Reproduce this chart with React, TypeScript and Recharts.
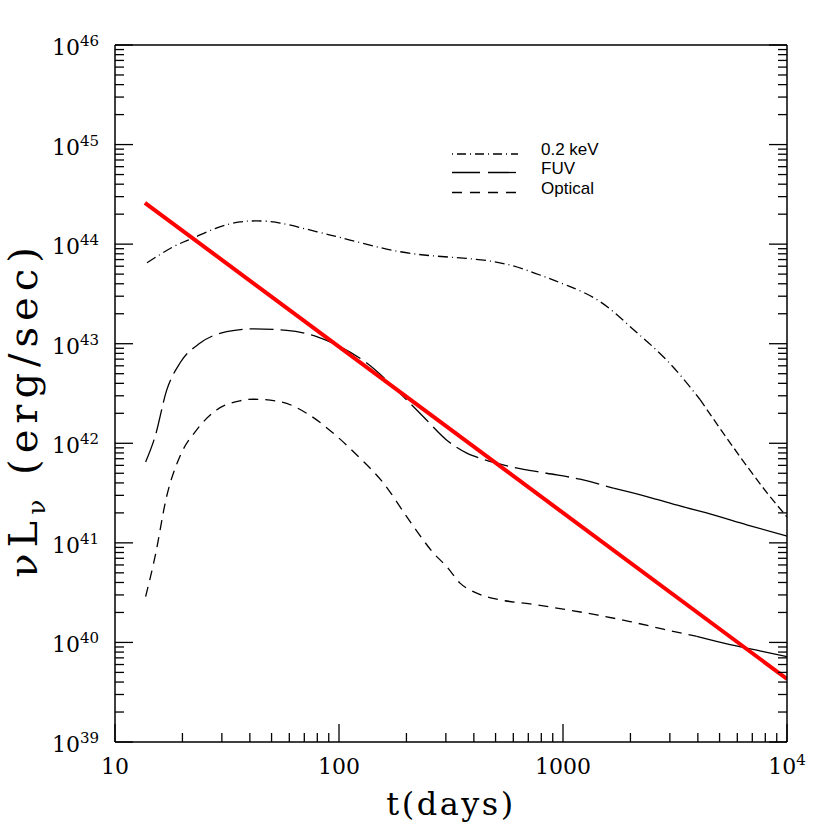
import React from "react";
import { LineChart, Line, XAxis, YAxis, Legend } from "recharts";

// ---- data ----
const keVT = [13.9, 18.2, 22.3, 28.5, 36.1, 43.1, 54.6, 79.8, 112, 187, 313, 523, 789, 1042, 1463, 2054, 2912, 4090, 5742, 8145, 10000];
const keVL = [6.5e43, 9.4e43, 1.15e44, 1.46e44, 1.67e44, 1.71e44, 1.63e44, 1.33e44, 1.1e44, 8.4e43, 7.4e43, 6.5e43, 4.9e43, 3.85e43, 2.65e43, 1.4e43, 6.8e42, 2.75e42, 9.2e41, 3.18e41, 1.82e41];

const fuvT = [13.7, 15.1, 17.0, 19.5, 23.9, 31.5, 41.4, 58.4, 79.5, 101, 133, 187, 238, 302, 372, 426, 600, 846, 1191, 1679, 2366, 3329, 4692, 6607, 10000];
const fuvL = [6.5e41, 1.17e42, 3.4e42, 6.4e42, 1.01e43, 1.32e43, 1.41e43, 1.36e43, 1.18e43, 9.35e42, 6.4e42, 3.18e42, 1.85e42, 1.08e42, 7.96e41, 7.08e41, 5.75e41, 5.0e41, 4.36e41, 3.54e41, 2.92e41, 2.35e41, 1.91e41, 1.52e41, 1.17e41];

const optT = [13.7, 15.1, 17.0, 19.5, 23.2, 28.4, 36.1, 41.4, 54.6, 71.8, 94.4, 124, 155, 210, 264, 302, 347, 412, 506, 713, 1003, 1413, 1990, 2804, 3953, 5572, 7840, 10000];
const optL = [2.89e40, 7.3e40, 2.92e41, 7.4e41, 1.37e42, 2.16e42, 2.67e42, 2.77e42, 2.62e42, 2.0e42, 1.26e42, 7.1e41, 4.2e41, 1.58e41, 7.9e40, 5.8e40, 3.94e40, 3.13e40, 2.72e40, 2.44e40, 2.16e40, 1.89e40, 1.62e40, 1.36e40, 1.15e40, 9.5e39, 8.1e39, 7.2e39];

const redT = [13.6, 10000];
const redL = [2.6e44, 4.3e39];

const xMajor = [10, 100, 1000, 10000];
const xMajorLabels = [
  { base: "10", sup: "" },
  { base: "100", sup: "" },
  { base: "1000", sup: "" },
  { base: "10", sup: "4" },
];
const yExponents = [39, 40, 41, 42, 43, 44, 45, 46];

const legendItems = [
  { label: "0.2 keV", dash: "1 4 9 4" },
  { label: "FUV", dash: "28 8" },
  { label: "Optical", dash: "10 8" },
];

// ---- helpers ----
const toData = (ts: number[], ls: number[]) => ts.map((t, i) => ({ t, L: ls[i] }));
const splitAt = (d: { t: number; L: number }[], cut: number) => [
  d.filter((p) => p.t <= cut),
  d.filter((p) => p.t >= cut),
];

const keVData = toData(keVT, keVL);
const fuvData = toData(fuvT, fuvL);
const optData = toData(optT, optL);
const redData = toData(redT, redL);

const [keVA, keVB] = splitAt(keVData, 4090);
const [fuvA, fuvB] = splitAt(fuvData, 1679);
const [optA, optB] = splitAt(optData, 3953);

const minorTicks = (lo: number, hi: number) => {
  const out: number[] = [];
  for (let e = lo; e < hi; e++) {
    for (let m = 1; m <= 9; m++) out.push(m * Math.pow(10, e));
  }
  out.push(Math.pow(10, hi));
  return out;
};
const xTicks = minorTicks(1, 4);
const yTicks = minorTicks(39, 46);

const isMajor = (v: number) => {
  const l = Math.log10(v);
  return Math.abs(l - Math.round(l)) < 1e-6;
};

const SERIF = "DejaVu Serif";
const MAJ = 18;
const MIN = 9;

const makeXTick = (side: "bottom" | "top") => (props: any) => {
  const { x, y, payload } = props;
  const v = payload.value;
  const major = isMajor(v);
  const len = major ? MAJ : MIN;
  const dir = side === "bottom" ? -1 : 1;
  let label = null;
  if (side === "bottom" && major) {
    const idx = xMajor.findIndex((m) => Math.abs(m - v) / m < 1e-6);
    const lab = xMajorLabels[idx];
    label = (
      <text x={x} y={y + 32} textAnchor="middle" fontFamily={SERIF} fontSize={22} fill="#000">
        {lab.base}
        {lab.sup ? (
          <tspan dy={-9} fontSize={15}>
            {lab.sup}
          </tspan>
        ) : null}
      </text>
    );
  }
  return (
    <g>
      <line x1={x} y1={y} x2={x} y2={y + dir * len} stroke="#000" strokeWidth={1.3} />
      {label}
    </g>
  );
};

const makeYTick = (side: "left" | "right") => (props: any) => {
  const { x, y, payload } = props;
  const v = payload.value;
  const major = isMajor(v);
  const len = major ? MAJ : MIN;
  const dir = side === "left" ? 1 : -1;
  let label = null;
  if (side === "left" && major) {
    const e = Math.round(Math.log10(v));
    const exp = yExponents.find((k) => k === e);
    label = (
      <text x={x - 16} y={y + 10} textAnchor="end" fontFamily={SERIF} fontSize={22} fill="#000">
        10
        <tspan dy={-9} fontSize={15}>
          {exp}
        </tspan>
      </text>
    );
  }
  return (
    <g>
      <line x1={x} y1={y} x2={x + dir * len} y2={y} stroke="#000" strokeWidth={1.3} />
      {label}
    </g>
  );
};

const LegendBox = () => (
  <svg width={200} height={70}>
    {legendItems.map((it, i) => {
      const ly = [19, 37.5, 57.5][i];
      return (
        <g key={it.label}>
          <line x1={12} x2={78} y1={ly} y2={ly} stroke="#000" strokeWidth={1.3} strokeDasharray={it.dash} />
          <text x={101} y={ly + 1} fontFamily="Liberation Sans" fontSize={17} fill="#000">
            {it.label}
          </text>
        </g>
      );
    })}
  </svg>
);

const axisLine = { stroke: "#000", strokeWidth: 1.5 };

export default function App() {
  return (
    <div style={{ position: "absolute", left: 0, top: 0, width: 830, height: 830, background: "#fff" }}>
      <LineChart width={830} height={830} margin={{ top: 15, right: 13, bottom: 58, left: 55 }}>
        <XAxis
          xAxisId="b"
          dataKey="t"
          type="number"
          scale="log"
          domain={[10, 10000]}
          allowDataOverflow
          ticks={xTicks}
          interval={0}
          orientation="bottom"
          height={30}
          tickSize={0}
          tickMargin={0}
          tickLine={false}
          axisLine={axisLine}
          tick={makeXTick("bottom")}
          label={{
            content: (p: any) => {
              const vb = p.viewBox;
              return (
                <text x={vb.x + vb.width / 2} y={vb.y + 73} textAnchor="middle" fontFamily={SERIF} fontSize={32} letterSpacing={2.5} fill="#000">
                  t(days)
                </text>
              );
            },
          }}
        />
        <XAxis
          xAxisId="t"
          type="number"
          scale="log"
          domain={[10, 10000]}
          allowDataOverflow
          ticks={xTicks}
          interval={0}
          orientation="top"
          height={30}
          tickSize={0}
          tickMargin={0}
          tickLine={false}
          axisLine={axisLine}
          tick={makeXTick("top")}
        />
        <YAxis
          yAxisId="l"
          type="number"
          scale="log"
          domain={[1e39, 1e46]}
          allowDataOverflow
          ticks={yTicks}
          interval={0}
          orientation="left"
          width={60}
          tickSize={0}
          tickMargin={0}
          tickLine={false}
          axisLine={axisLine}
          tick={makeYTick("left")}
          label={{
            content: (p: any) => {
              const vb = p.viewBox;
              const cx = 37;
              const cy = vb.y + vb.height / 2 + 16;
              return (
                <text
                  x={cx}
                  y={cy}
                  transform={`rotate(-90, ${cx}, ${cy})`}
                  textAnchor="middle"
                  fontFamily={SERIF}
                  fontSize={40}
                  letterSpacing={6}
                  fill="#000"
                >
                  νL
                  <tspan dy={8} fontSize={25}>ν</tspan>
                  <tspan dy={-8}> (erg/sec)</tspan>
                </text>
              );
            },
          }}
        />
        <YAxis
          yAxisId="r"
          type="number"
          scale="log"
          domain={[1e39, 1e46]}
          allowDataOverflow
          ticks={yTicks}
          interval={0}
          orientation="right"
          width={30}
          tickSize={0}
          tickMargin={0}
          tickLine={false}
          axisLine={axisLine}
          tick={makeYTick("right")}
        />
        <Legend
          layout="horizontal"
          verticalAlign="middle"
          align="center"
          content={() => <LegendBox />}
          wrapperStyle={{ position: "absolute", left: 440, top: 135, width: 200, height: 70 }}
        />
        <Line xAxisId="b" yAxisId="l" data={keVA} dataKey="L" type="natural" stroke="#000" strokeWidth={1.3} strokeDasharray="10 4 1 4" dot={false} activeDot={false} isAnimationActive={false} />
        <Line xAxisId="b" yAxisId="l" data={keVB} dataKey="L" type="monotone" stroke="#000" strokeWidth={1.3} strokeDasharray="8 4" dot={false} activeDot={false} isAnimationActive={false} />
        <Line xAxisId="b" yAxisId="l" data={fuvA} dataKey="L" type="monotone" stroke="#000" strokeWidth={1.3} strokeDasharray="24 7" dot={false} activeDot={false} isAnimationActive={false} />
        <Line xAxisId="b" yAxisId="l" data={fuvB} dataKey="L" type="monotone" stroke="#000" strokeWidth={1.3} dot={false} activeDot={false} isAnimationActive={false} />
        <Line xAxisId="b" yAxisId="l" data={optA} dataKey="L" type="monotone" stroke="#000" strokeWidth={1.3} strokeDasharray="10 7" dot={false} activeDot={false} isAnimationActive={false} />
        <Line xAxisId="b" yAxisId="l" data={optB} dataKey="L" type="monotone" stroke="#000" strokeWidth={1.3} dot={false} activeDot={false} isAnimationActive={false} />
        <Line xAxisId="b" yAxisId="l" data={redData} dataKey="L" type="linear" stroke="#ff0000" strokeWidth={4} dot={false} activeDot={false} isAnimationActive={false} />
      </LineChart>
    </div>
  );
}
